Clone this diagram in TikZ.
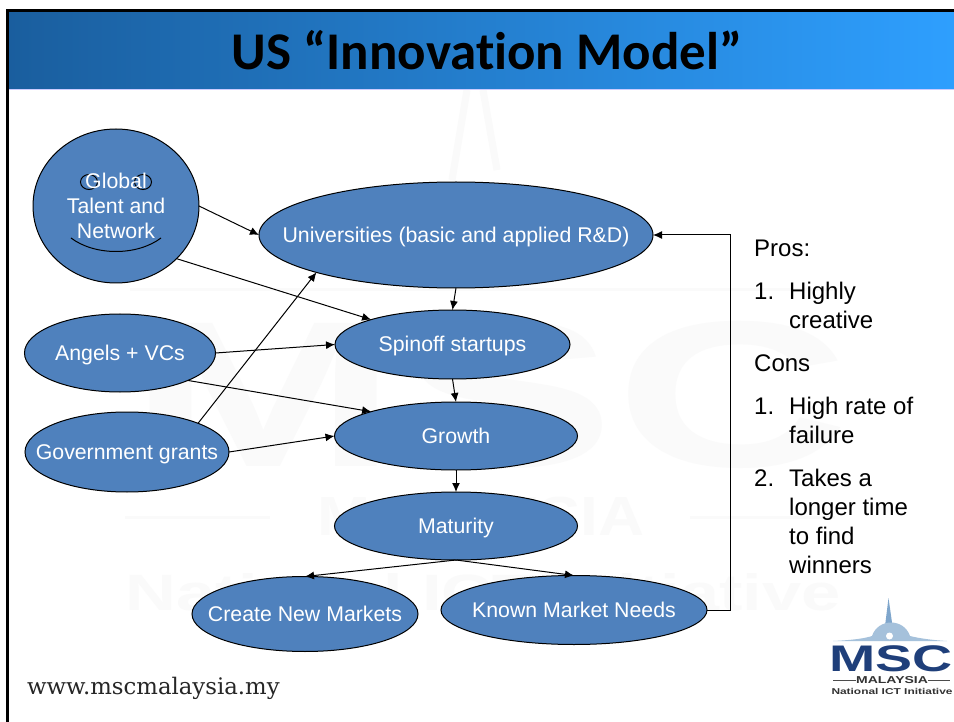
\documentclass[tikz,border=0pt]{standalone}
\usepackage{fontspec}
\usepackage{graphicx}
\setmainfont{Liberation Sans}
\newfontfamily\titlefont[Ligatures=NoCommon]{Carlito}
\newfontfamily\urlfont{DejaVu Serif}
\usetikzlibrary{shapes.geometric, arrows.meta}
\definecolor{blobblue}{HTML}{4F81BD}
\definecolor{headdark}{HTML}{1A5E9E}
\definecolor{headlight}{HTML}{2E9FFE}
\definecolor{logonavy}{HTML}{1F3F7A}
\definecolor{logosky}{HTML}{7FA6CC}

\begin{document}
\begin{tikzpicture}[x=1pt, y=-1pt, >={Latex[length=9pt, width=8pt]},
        blob/.style={ellipse, draw=black, fill=blobblue, text=white, inner sep=0, outer sep=0, line width=1pt,
            font=\fontsize{21.3}{25}\selectfont, align=center, text height=17pt, text depth=2.5pt},
        face/.style={draw=black, line width=1pt},
        link/.style={->, line width=1pt},
        faint/.style={text=black!2, inner sep=0}
      ]
    \useasboundingbox (0,0) rectangle (954,722);
    \fill[white] (0,0) rectangle (954,722);

    \node[faint, font=\fontsize{208}{208}\selectfont\bfseries] (markmsc) at (489,395) {\scalebox{1.56}[1]{MSC}};
    \node[faint, font=\fontsize{55}{55}\selectfont\bfseries] (markmy) at (481,517) {\scalebox{1.16}[1]{MALAYSIA}};
    \node[faint, font=\fontsize{51}{51}\selectfont\bfseries] (marknat) at (483,592) {\scalebox{1.38}[1]{National ICT Initiative}};
    \draw[black!2, line width=3pt] (130,290) -- (838,290);
    \draw[black!2, line width=3pt] (125,517) -- (270,517) (690,517) -- (835,517);
    \draw[black!2, line width=7pt] (467,90) -- (452,180) (483,90) -- (497,170);

    \shade[left color=headdark, right color=headlight] (7,11) rectangle (954,89);
    \draw[blue!20, line width=0.8pt] (7,89.5) -- (954,89.5);
    \draw[line width=3pt] (7,722) -- (7,10.5) -- (954,10.5);
    \node[font=\titlefont\bfseries\fontsize{53}{56}\selectfont, inner sep=0] (title) at (487,50) {US “Innovation Model”};

    \node[blob, minimum width=166pt, minimum height=154pt] (global) at (116,206) {};
    \node[face, ellipse, minimum width=17pt, minimum height=15pt, inner sep=0] (eyeleft) at (89,182) {};
    \node[face, ellipse, minimum width=17pt, minimum height=15pt, inner sep=0] (eyeright) at (143,182) {};
    \coordinate (smileleft) at (71,238);
    \coordinate (smileright) at (161,238);
    \draw[face] (smileleft) .. controls (95,256) and (137,256) .. (smileright);
    \node[font=\fontsize{21.3}{25}\selectfont, text=white, align=center, inner sep=0] (globaltext) at (116,206) {Global\\Talent and\\Network};

    \node[blob, minimum width=394pt, minimum height=106pt] (uni) at (456,235) {\makebox[0pt]{Universities (basic and applied R\&D)}};
    \node[blob, minimum width=235pt, minimum height=69pt] (spinoff) at (452.5,344.5) {\makebox[0pt]{Spinoff startups}};
    \node[blob, minimum width=243pt, minimum height=68pt] (growth) at (456,436) {Growth};
    \node[blob, minimum width=243pt, minimum height=68pt] (maturity) at (456,526) {Maturity};
    \node[blob, minimum width=191pt, minimum height=78pt] (angels) at (120,353) {\makebox[0pt]{Angels + VCs}};
    \node[blob, minimum width=204pt, minimum height=80pt] (grants) at (127,452) {\makebox[0pt]{Government grants}};
    \node[blob, minimum width=226pt, minimum height=75pt] (create) at (305,614) {\makebox[0pt]{Create New Markets}};
    \node[blob, minimum width=266pt, minimum height=69pt] (known) at (574,610) {\makebox[0pt]{Known Market Needs}};

    \draw[link] (global.east) -- (uni.west);
    \draw[link] (global.-41) -- (spinoff.163.6);
    \draw[link] (angels.east) -- (spinoff.west);
    \draw[link] (angels.-22.7) -- (growth.164);
    \draw[link] (grants.east) -- (growth.west);
    \draw[link] (grants.22) -- (uni.195.3);
    \draw[link] (uni.south) -- (spinoff.north);
    \draw[link] (spinoff.south) -- (growth.north);
    \draw[link] (growth.south) -- (maturity.north);
    \draw[link] (maturity.south) -- (create.north);
    \draw[link] (maturity.south) -- (known.north);
    \coordinate (backlow) at (730,610);
    \coordinate (backhigh) at (730,235);
    \draw[link] (known.east) -- (backlow) -- (backhigh) -- (uni.east);

    \node[anchor=north west, inner sep=0, align=left, font=\fontsize{24}{29}\selectfont] (notes) at (754,240) {%
        Pros:\\[14pt]
        \makebox[35pt][l]{1.}Highly\\
        \hspace*{35pt}creative\\[14pt]
        Cons\\[14pt]
        \makebox[35pt][l]{1.}High rate of\\
        \hspace*{35pt}failure\\[14pt]
        \makebox[35pt][l]{2.}Takes a\\
        \hspace*{35pt}longer time\\
        \hspace*{35pt}to find\\
        \hspace*{35pt}winners};

    \node[anchor=west, inner sep=0, text=black!85, font=\urlfont\fontsize{22.8}{26}\selectfont] (url) at (27,688) {www.mscmalaysia.my};

    \fill[logosky] (888.5,598) -- (892.5,626) -- (885,626) -- cycle;
    \fill[logosky!70] (833,641) .. controls (855,640) and (866,638) .. (872,636) .. controls (878,618) and (904,618) .. (910,636) .. controls (918,638) and (930,640) .. (947,641) -- cycle;
    \fill[white] (889.5,636) circle (3.5);
    \node[inner sep=0, text=logonavy, font=\fontsize{37}{37}\selectfont\bfseries] (logomsc) at (891,659) {\scalebox{1.5}[1]{MSC}};
    \node[inner sep=0, font=\fontsize{10}{10}\selectfont\bfseries, text=black!80] (logomy) at (892,680) {\scalebox{1.4}[1]{MALAYSIA}};
    \coordinate (ruleleft) at (833,680);
    \coordinate (ruleright) at (950,680);
    \draw[black!70] (ruleleft) -- (logomy.west) (logomy.east) -- (ruleright);
    \node[inner sep=0, font=\fontsize{8.5}{10}\selectfont\bfseries, text=black!80] (logonat) at (892,691) {\scalebox{1.4}[1]{National ICT Initiative}};
\end{tikzpicture}
\end{document}
